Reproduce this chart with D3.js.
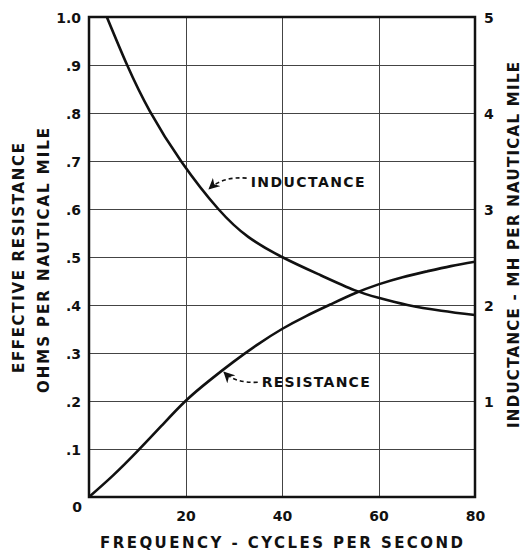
<!DOCTYPE html>
<html><head><meta charset="utf-8">
<script src="https://cdn.jsdelivr.net/npm/d3@7"></script>
<style>
html,body{margin:0;padding:0;background:#fff;}
svg{display:block;}
text{font-family:"DejaVu Sans",sans-serif;font-weight:bold;fill:#111;}
</style></head>
<body>
<script>
// ---- data ----
const resFreq = [0, 5, 10, 15, 20, 25, 30, 35, 40, 45, 50, 55, 60, 65, 70, 75, 80];
const resistance = [0, 0.045, 0.095, 0.148, 0.2, 0.243, 0.282, 0.318, 0.35, 0.377, 0.401, 0.424, 0.443, 0.458, 0.47, 0.481, 0.49];
const indFreq = [3.7, 7.9, 12.6, 19.2, 26.8, 33, 40, 48, 55, 60, 66, 73, 80];
const inductance = [5.0, 4.5, 4.02, 3.49, 3.0, 2.71, 2.5, 2.31, 2.155, 2.075, 2.0, 1.94, 1.895];
const xTicks = [20, 40, 60, 80];
const xTickLabels = ["20", "40", "60", "80"];
const leftTicks = [0.1, 0.2, 0.3, 0.4, 0.5, 0.6, 0.7, 0.8, 0.9, 1.0];
const leftTickLabels = [".1", ".2", ".3", ".4", ".5", ".6", ".7", ".8", ".9", "1.0"];
const rightTicks = [1, 2, 3, 4, 5];
const rightTickLabels = ["1", "2", "3", "4", "5"];

const W = 522, H = 552;
const m = {left: 89, right: 475, top: 17, bottom: 497};
const svg = d3.select("body").append("svg").attr("width", W).attr("height", H);

const x = d3.scaleLinear().domain([0, 80]).range([m.left, m.right]);
const yL = d3.scaleLinear().domain([0, 1]).range([m.bottom, m.top]);
const yR = d3.scaleLinear().domain([0, 5]).range([m.bottom, m.top]);

// grid
const grid = svg.append("g").attr("stroke", "#444").attr("stroke-width", 1);
grid.selectAll(".h").data(leftTicks.filter(d => d < 1)).enter().append("line")
  .attr("x1", m.left).attr("x2", m.right).attr("y1", d => Math.round(yL(d)) + 0.5).attr("y2", d => Math.round(yL(d)) + 0.5);
grid.selectAll(".v").data(xTicks.filter(d => d < 80)).enter().append("line")
  .attr("y1", m.top).attr("y2", m.bottom).attr("x1", d => Math.round(x(d)) + 0.5).attr("x2", d => Math.round(x(d)) + 0.5);

// frame
svg.append("rect").attr("x", m.left).attr("y", m.top).attr("width", m.right - m.left).attr("height", m.bottom - m.top)
  .attr("fill", "none").attr("stroke", "#111").attr("stroke-width", 2.5);

// curves
svg.append("clipPath").attr("id", "c").append("rect")
  .attr("x", m.left).attr("y", m.top).attr("width", m.right - m.left).attr("height", m.bottom - m.top);
const lineR = d3.line().x((d, i) => x(resFreq[i])).y(d => yL(d)).curve(d3.curveNatural);
const lineI = d3.line().x((d, i) => x(indFreq[i])).y(d => yR(d)).curve(d3.curveNatural);
svg.append("path").attr("d", lineR(resistance)).attr("fill", "none").attr("stroke", "#111").attr("stroke-width", 2.6).attr("clip-path", "url(#c)");
svg.append("path").attr("d", lineI(inductance)).attr("fill", "none").attr("stroke", "#111").attr("stroke-width", 2.6).attr("clip-path", "url(#c)");

// axes labels
const styleTicks = sel => sel.style("font-size", "14px").style("font-family", "DejaVu Sans").style("font-weight", "bold").attr("fill", "#111");
const xAxis = d3.axisBottom(x).tickValues(xTicks).tickFormat((d, i) => xTickLabels[i]).tickSize(0).tickPadding(0);
const gx = svg.append("g").attr("transform", `translate(0,${m.bottom})`).call(xAxis);
gx.select(".domain").remove();
gx.selectAll("text").attr("y", 24).attr("dy", 0).call(styleTicks);

const yAxisL = d3.axisLeft(yL).tickValues(leftTicks).tickFormat((d, i) => leftTickLabels[i]).tickSize(0).tickPadding(8);
const gl = svg.append("g").attr("transform", `translate(${m.left},0)`).call(yAxisL);
gl.select(".domain").remove();
gl.selectAll("text").attr("dy", "0.36em").call(styleTicks);
svg.append("text").attr("x", x(0) - 12).attr("y", yL(0) + 10).attr("dy", "0.36em").attr("text-anchor", "middle")
  .style("font-size", "14px").text("0");

const yAxisR = d3.axisRight(yR).tickValues(rightTicks).tickFormat((d, i) => rightTickLabels[i]).tickSize(0).tickPadding(9);
const gr = svg.append("g").attr("transform", `translate(${m.right},0)`).call(yAxisR);
gr.select(".domain").remove();
gr.selectAll("text").attr("dy", "0.36em").call(styleTicks);

// titles
svg.append("text").attr("x", 100).attr("y", 548).attr("textLength", 363).attr("lengthAdjust", "spacing")
  .style("font-size", "15px").text("FREQUENCY  - CYCLES  PER  SECOND");
svg.append("text").attr("transform", "translate(24,373) rotate(-90)").attr("textLength", 230).attr("lengthAdjust", "spacing")
  .style("font-size", "15px").text("EFFECTIVE  RESISTANCE");
svg.append("text").attr("transform", "translate(49,393) rotate(-90)").attr("textLength", 265).attr("lengthAdjust", "spacing")
  .style("font-size", "15px").text("OHMS  PER  NAUTICAL  MILE");
svg.append("text").attr("transform", "translate(519,428) rotate(-90)").attr("textLength", 366).attr("lengthAdjust", "spacing")
  .style("font-size", "15px").text("INDUCTANCE  -  MH  PER  NAUTICAL  MILE");

// annotations
const defs = svg.append("defs");
defs.append("marker").attr("id", "ah").attr("viewBox", "0 0 10 10").attr("refX", 9).attr("refY", 5)
  .attr("markerWidth", 7).attr("markerHeight", 7).attr("orient", "auto")
  .append("path").attr("d", "M0,0 L10,5 L0,10 L3,5 Z").attr("fill", "#111");

// inductance label
const iTip = [x(24.5), yL(0.64)];
const iLab = [x(33.5), yL(0.656)];
svg.append("path").attr("d", `M${iLab[0] - 4},${iLab[1] - 4} Q${iTip[0] + 16},${iLab[1] - 6} ${iTip[0] + 2},${iTip[1] - 1}`)
  .attr("fill", "none").attr("stroke", "#111").attr("stroke-width", 1.6).attr("stroke-dasharray", "4,3").attr("marker-end", "url(#ah)");
svg.append("text").attr("x", iLab[0]).attr("y", iLab[1]).attr("dy", "0.36em").attr("textLength", 114).attr("lengthAdjust", "spacing")
  .style("font-size", "14px").text("INDUCTANCE");

// resistance label
const rTip = [x(27.8), yL(0.262)];
const rLab = [x(35.8), yL(0.239)];
svg.append("path").attr("d", `M${rLab[0] - 4},${rLab[1]} Q${rTip[0] + 12},${rLab[1] + 1} ${rTip[0] + 1},${rTip[1] + 1}`)
  .attr("fill", "none").attr("stroke", "#111").attr("stroke-width", 1.6).attr("stroke-dasharray", "4,3").attr("marker-end", "url(#ah)");
svg.append("text").attr("x", rLab[0]).attr("y", rLab[1]).attr("dy", "0.36em").attr("textLength", 108).attr("lengthAdjust", "spacing")
  .style("font-size", "14px").text("RESISTANCE");
</script>
</body></html>
